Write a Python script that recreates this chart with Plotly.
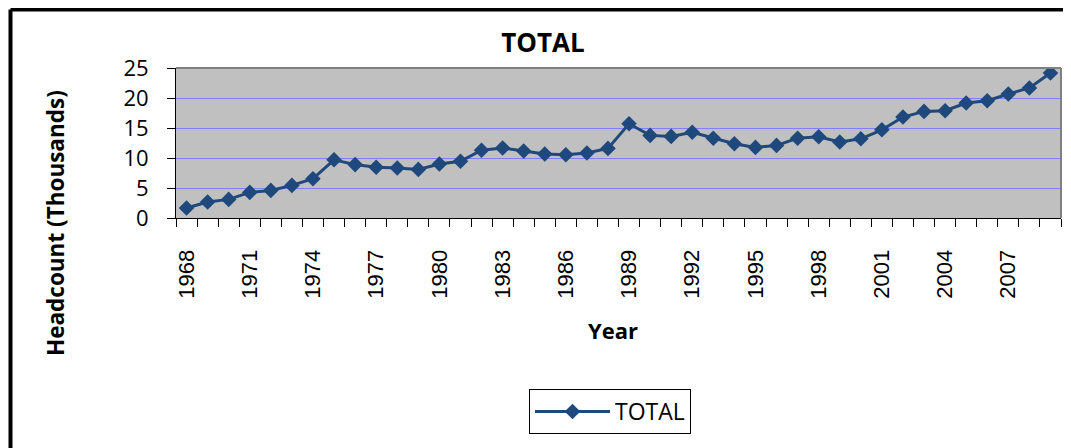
import plotly.graph_objects as go

years = list(range(1968, 2010))
headcount = [1.67, 2.67, 3.1, 4.27, 4.6, 5.43, 6.55, 9.7, 8.9, 8.45,
             8.33, 8.1, 9.0, 9.45, 11.3, 11.67, 11.17, 10.67, 10.55, 10.83,
             11.6, 15.7, 13.77, 13.6, 14.3, 13.3, 12.38, 11.77, 12.1, 13.3,
             13.55, 12.67, 13.2, 14.7, 16.83, 17.77, 17.88, 19.17, 19.55, 20.67,
             21.67, 24.17]
tick_years = years[::3]

# page body has an 8px margin; work in screen coordinates and convert
OFF = 8
W, H = 1071 - OFF, 448 - OFF
PL, PR, PT, PB = 176, 1061, 68, 218  # plot area in screen pixels
L = PL - OFF
T = PT - OFF
R = W - (PR - OFF)
B = H - (PB - OFF)
pw, ph = PR - PL, PB - PT

def px(x):
    return (x - PL) / pw

def py(y):
    return (PB - y) / ph

fig = go.Figure()
fig.add_trace(go.Scatter(
    x=years, y=headcount, mode="lines+markers", name="TOTAL",
    line=dict(color="#1f497d", width=3),
    marker=dict(symbol="diamond", size=12, color="#1f497d"),
))

fig.update_layout(
    width=W, height=H,
    margin=dict(l=L, r=R, t=T, b=B),
    paper_bgcolor="white",
    plot_bgcolor="#c0c0c0",
    title=dict(text="<b>TOTAL</b>", xref="container", x=(543 - OFF) / W, xanchor="center",
               yref="container", y=1 - (43 - OFF) / H, yanchor="middle",
               font=dict(family="Open Sans", size=26, color="black")),
    xaxis=dict(
        range=[1967.5, 2009.5], tickmode="array", tickvals=tick_years,
        ticktext=[str(y) for y in tick_years], tickangle=-90,
        ticks="", showgrid=False, zeroline=False,
        showline=True, linecolor="black", linewidth=1,
        ticklabelstandoff=22,
        tickfont=dict(family="Liberation Sans", size=22, color="black"),
        minor=dict(tickmode="linear", tick0=1967.5, dtick=1, ticks="outside",
                   ticklen=8, tickcolor="black", tickwidth=1, showgrid=False),
    ),
    yaxis=dict(
        range=[0, 25], dtick=5, ticks="outside", ticklen=8, tickcolor="black",
        showline=True, linecolor="black", linewidth=1, zeroline=False,
        showgrid=True, gridcolor="#8080ff", gridwidth=1,
        ticklabelstandoff=14,
        tickfont=dict(family="Open Sans", size=22, color="black"),
    ),
    showlegend=True,
    legend=dict(x=px(529), y=py(389), xanchor="left", yanchor="top",
                bordercolor="black", borderwidth=1, bgcolor="white",
                font=dict(family="Open Sans", size=23, color="black"),
                itemwidth=75, tracegroupgap=0),
    annotations=[
        dict(text="<b>Year</b>", x=px(613), y=py(330), xref="paper", yref="paper",
             showarrow=False, xanchor="center", yanchor="middle",
             font=dict(family="Open Sans", size=22, color="black")),
        dict(text="<b>Headcount (Thousands)</b>", x=px(55), y=py(223), xref="paper", yref="paper",
             showarrow=False, xanchor="center", yanchor="middle", textangle=-90,
             font=dict(family="Open Sans", size=22.5, color="black")),
    ],
    shapes=[
        dict(type="line", xref="paper", yref="paper", x0=0, x1=1, y0=1, y1=1,
             line=dict(color="#808080", width=2)),
        dict(type="line", xref="paper", yref="paper", x0=1, x1=1, y0=0, y1=1,
             line=dict(color="#808080", width=2)),
        dict(type="line", xref="paper", yref="paper", x0=px(10.5), x1=px(1090),
             y0=py(9.5), y1=py(9.5), line=dict(color="black", width=4)),
        dict(type="line", xref="paper", yref="paper", x0=px(10.5), x1=px(10.5),
             y0=py(9.5), y1=py(480), line=dict(color="black", width=4)),
    ],
)

fig.write_html("out.html")
